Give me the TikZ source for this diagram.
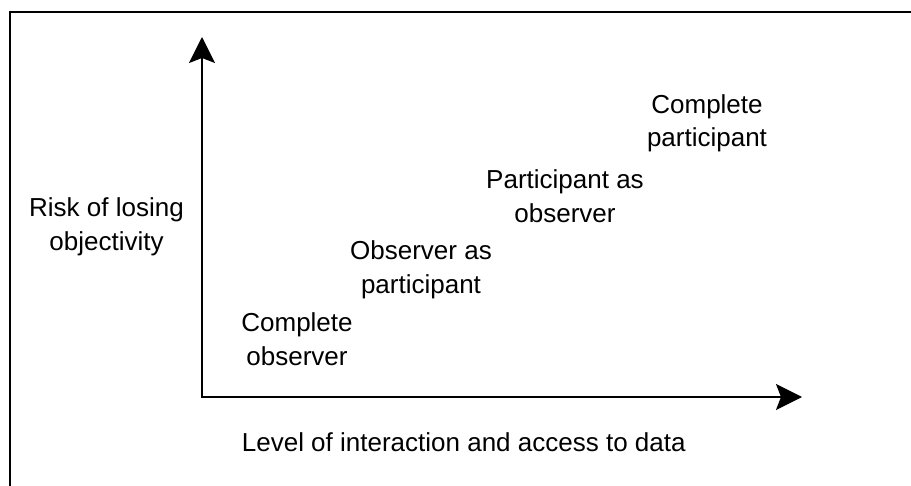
\documentclass[tikz,border=0pt]{standalone}
\usepackage{fontspec}
\setmainfont{Liberation Sans}
\usetikzlibrary{arrows.meta}
\tikzset{
  lbl/.style={inner sep=0pt, align=center, anchor=base, font=\fontsize{26}{33.5}\selectfont},
  axis/.style={line width=2pt, line join=miter, {Stealth[length=26pt,width=26pt,inset=5pt]}-{Stealth[length=26pt,width=26pt,inset=5pt]}},
  frame/.style={line width=2pt}
}
\begin{document}
\begin{tikzpicture}[x=1pt,y=-1pt]
\useasboundingbox (0,0) rectangle (911,486);
\clip (0,0) rectangle (911,486);
\draw[frame] (10,12.5) rectangle (930,500);
\coordinate (O) at (202,397);
\coordinate (Y) at (202,37);
\coordinate (X) at (802,397);
\draw[axis] (Y) -- (O) -- (X);
% base anchor of a two-line node lies on its last line
\node[lbl] (cp) at (707,147) {Complete\\participant};
\node[lbl] (pao) at (565,222.5) {Participant as\\observer};
\node[lbl] (risk) at (106.5,250.5) {Risk of losing\\objectivity};
\node[lbl] (oap) at (421,293.5) {Observer as\\participant};
\node[lbl] (co) at (297,365.5) {Complete\\observer};
\node[lbl, anchor=base west] (lvl) at (241.7,452) {Level of interaction and access to data};
\end{tikzpicture}
\end{document}
